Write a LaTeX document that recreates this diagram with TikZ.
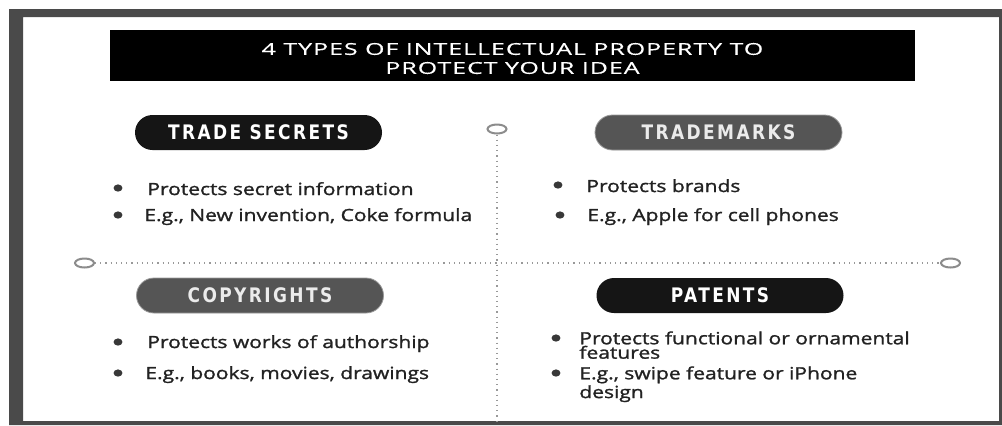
\documentclass[tikz,border=0pt]{standalone}
\usepackage{fontspec}
\setmainfont{Open Sans}
\newfontfamily\titlefont{Open Sans}[FakeStretch=1.52,LetterSpace=6,FakeBold=0.5]
\newfontfamily\headfont{DejaVu Sans}[FakeStretch=0.85,LetterSpace=12]
\newfontfamily\itemfont{Open Sans}[FakeStretch=1.25,FakeBold=1.4]
\usetikzlibrary{shapes.geometric, positioning}

\definecolor{framegray}{HTML}{4A4A4A}
\definecolor{pilldark}{HTML}{151515}
\definecolor{pillgray}{HTML}{555555}
\definecolor{inkgray}{HTML}{222222}

\tikzset{
    pill/.style={rounded corners=8.75pt, minimum width=123.5pt, minimum height=17.5pt,
                 inner sep=0pt, font=\headfont\bfseries\fontsize{10}{11}\selectfont},
    darkpill/.style={pill, fill=pilldark, text=white},
    graypill/.style={pill, fill=pillgray, draw=gray!80, text=white!92!black},
    ring/.style={ellipse, draw=gray!90, line width=1pt, minimum width=9.5pt, minimum height=4.5pt, inner sep=0pt},
    dot/.style={ellipse, fill=inkgray!90, minimum width=4.4pt, minimum height=3.6pt, inner sep=0pt},
    item/.style={anchor=base west, inner sep=0pt, text=inkgray,
                 font=\itemfont\fontsize{8.4}{7.2}\selectfont},
    guide/.style={draw=gray!80, dotted, line width=0.6pt}
}

\begin{document}
\begin{tikzpicture}[x=0.5pt, y=-0.5pt]
    \useasboundingbox (0,0) rectangle (1002,425);
    \fill[white] (0,0) rectangle (1002,425);

    % frame
    \path[fill=framegray, even odd rule] (9,9) rectangle (1002,425)
                                         (23,17) rectangle (999,421);

    % heading bar
    \node[fill=black, minimum width=402.5pt, minimum height=25.5pt, inner sep=0pt] (title) at (512.5,55.5) {};
    \node[text=white, align=center, inner sep=0pt, font=\titlefont\fontsize{8.2}{9.5}\selectfont]
        (titletext) at (512.5,58.5) {4 TYPES OF INTELLECTUAL PROPERTY TO\\PROTECT YOUR IDEA};

    % dividers
    \node[ring] (ringtop) at (497,129) {};
    \node[ring] (ringleft) at (84.5,263) {};
    \node[ring] (ringright) at (950.5,263) {};
    \coordinate (bottom) at (497,421);
    \path[guide] (ringtop.south) -- (bottom);
    \path[guide] (ringleft.east) -- (ringright.west);

    % quadrant titles
    \node[darkpill] (secrets) at (258.5,132.5) {TRADE SECRETS};
    \node[graypill] (marks) at (718.5,132.5) {TRADEMARKS};
    \node[graypill] (copy) at (260,295.5) {COPYRIGHTS};
    \node[darkpill] (patents) at (720,295.5) {PATENTS};

    % trade secrets
    \node[dot] (ts1) at (118,188) {};
    \node[dot] (ts2) at (118,215) {};
    \node[item] (tstext1) at (147,195) {Protects secret information};
    \node[item] (tstext2) at (144,221) {E.g., New invention, Coke formula};

    % trademarks
    \node[dot] (tm1) at (558,185) {};
    \node[dot] (tm2) at (560,215) {};
    \node[item] (tmtext1) at (586,192) {Protects brands};
    \node[item] (tmtext2) at (587,221) {E.g., Apple for cell phones};

    % copyrights
    \node[dot] (cr1) at (118,342) {};
    \node[dot] (cr2) at (118,373) {};
    \node[item] (crtext1) at (147,348) {Protects works of authorship};
    \node[item] (crtext2) at (145,379) {E.g., books, movies, drawings};

    % patents (two lines each, hung from the top)
    \node[dot] (pt1) at (556,338) {};
    \node[dot] (pt2) at (556,373) {};
    \node[item, anchor=north west, align=left] (pttext1) at (579,331) {Protects functional or ornamental\\features};
    \node[item, anchor=north west, align=left] (pttext2) at (579,366) {E.g., swipe feature or iPhone\\design};
\end{tikzpicture}
\end{document}
